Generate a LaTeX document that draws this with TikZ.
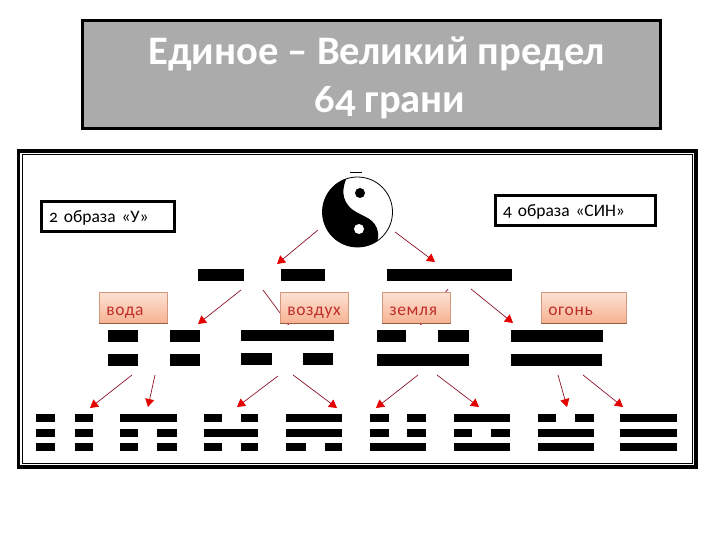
\documentclass[tikz,border=0pt]{standalone}
\usepackage{fontspec}
\setmainfont[Numbers=OldStyle]{Carlito}
\definecolor{TitleGray}{RGB}{171,171,171}
\definecolor{BoxTop}{RGB}{253,226,212}
\definecolor{BoxBottom}{RGB}{247,178,146}
\definecolor{BoxEdge}{RGB}{150,95,70}
\definecolor{WordRed}{RGB}{190,45,40}
\definecolor{ArrowLine}{RGB}{140,20,40}
\usetikzlibrary{arrows.meta}
\tikzset{
  titletext/.style={text=white,font=\fontsize{40.5}{40.5}\selectfont\bfseries,inner sep=0pt,anchor=base},
  notebox/.style={draw=black,line width=3.2pt,anchor=west,align=left,inner xsep=8pt,inner ysep=0pt,minimum height=30pt,text height=14pt,text depth=2pt,font=\fontsize{17.5}{20}\selectfont},
  elembox/.style={draw=BoxBottom!85!black,line width=0.5pt,top color=BoxTop,bottom color=BoxBottom,text=WordRed,anchor=west,align=left,inner xsep=7pt,inner ysep=0pt,minimum height=31pt,text height=15pt,text depth=0pt,font=\fontsize{17.5}{18}\selectfont\addfontfeatures{LetterSpace=4}},
  redarrow/.style={ArrowLine,line width=0.7pt,-{Triangle[length=8pt,width=9pt,color=red!90!black]}},
}
\begin{document}
\begin{tikzpicture}[x=1pt,y=-1pt]
  \useasboundingbox (0,0) rectangle (720,540);
  % heading
  \draw[black,line width=3pt,fill=TitleGray] (82,21) rectangle (660,129);
  \node[titletext] (title1) at (377,65) {Единое – Великий предел};
  \node[titletext] (title2) at (390,113) {64 грани};
  % frame
  \draw[line width=3.2pt] (18.5,151) rectangle (696,467);
  \draw[line width=0.8pt] (22.5,154) rectangle (692,463.5);
  % taiji
  \draw[line width=0.8pt] (350,172.5) -- (362,172.5);
  \draw[line width=0.8pt,fill=white] (357.5,212) circle (35pt);
  \begin{scope}
    \clip (357.5,212) circle (35pt);
    \fill (348,175) .. controls (342,187) and (340,200) .. (353,210)
      .. controls (363,217) and (376,218) .. (378,233)
      .. controls (379,240) and (376,245) .. (372,250)
      -- (310,255) -- (310,170) -- cycle;
  \end{scope}
  \fill (360,193) circle (5pt);
  \fill[white] (359,229) circle (5pt);
  % arrow ends
  \foreach \name/\x/\y in {
    ta/318/230,tb/277/264,tc/395/232,td/435/262,
    ua/241/290,ub/198/324,uc/263/290,ud/289/325,ue/448/289,uf/420/325,ug/471/289,uh/513/323,
    va/132/375,vb/90/408,vc/155/375,vd/148/407,ve/278/376,vf/237/407,vg/293/375,vh/337/408,
    vi/418/375,vj/376/408,vk/437/375,vl/479/407,vm/558/375,vn/567/407,vo/583/375,vp/623/407} {
    \coordinate (\name) at (\x,\y);
  }
  \foreach \from/\to in {ta/tb,tc/td,ua/ub,uc/ud,ue/uf,ug/uh,va/vb,vc/vd,ve/vf,vg/vh,vi/vj,vk/vl,vm/vn,vo/vp} {
    \draw[redarrow] (\from) -- (\to);
  }
  % notes
  \node[notebox,text width=117pt] (noteu) at (39.5,216.5) {2 образа «У»};
  \node[notebox,text width=144pt] (notesin) at (493.5,210.5) {4 образа «СИН»};
  % elements
  \node[elembox,text width=54pt] (voda) at (99,307.5) {вода};
  \node[elembox,text width=54pt] (vozduh) at (280,307.5) {воздух};
  \node[elembox,text width=54pt] (zemlya) at (382,307.5) {земля};
  \node[elembox,text width=71pt] (ogon) at (541,307.5) {огонь};
  \foreach \elem in {voda,vozduh,zemlya,ogon} {
    \draw[BoxEdge,line width=1.2pt] (\elem.south west) -- (\elem.south east);
  }
  % lines, long and broken
  \foreach \xa/\xb/\ya/\yb in {
    198/244/269/281,281/325/269/281,387/512/269/281,
    108/138/330/342,170/200/330/342,241/334/330/341,377/406/330/342,438/469/330/342,511/603/330/342,
    108/138/354/366,170/200/354/366,241/272/353/365,303/333/353/365,377/469/354/366,511/602/354/366} {
    \fill (\xa,\ya) rectangle (\xb,\yb);
  }
  % three-line figures, y given by row
  \foreach \xa/\xb/\ya in {
    36/55/414,75/93/414,36/55/429,75/93/429,36/55/443,75/93/443,
    120/177/414,120/138/429,157/177/429,120/138/443,157/177/443,
    204/222/414,241/258/414,204/258/429,204/222/443,241/258/443,
    286/342/414,286/342/429,286/306/443,325/342/443,
    370/389/414,407/426/414,370/389/429,407/426/429,370/426/443,
    454/510/414,454/472/429,491/510/429,454/510/443,
    538/556/414,575/594/414,538/594/429,538/594/443,
    620/677/414,620/677/429,620/677/443} {
    \fill (\xa,\ya) rectangle (\xb,\ya+8);
  }
\end{tikzpicture}
\end{document}
